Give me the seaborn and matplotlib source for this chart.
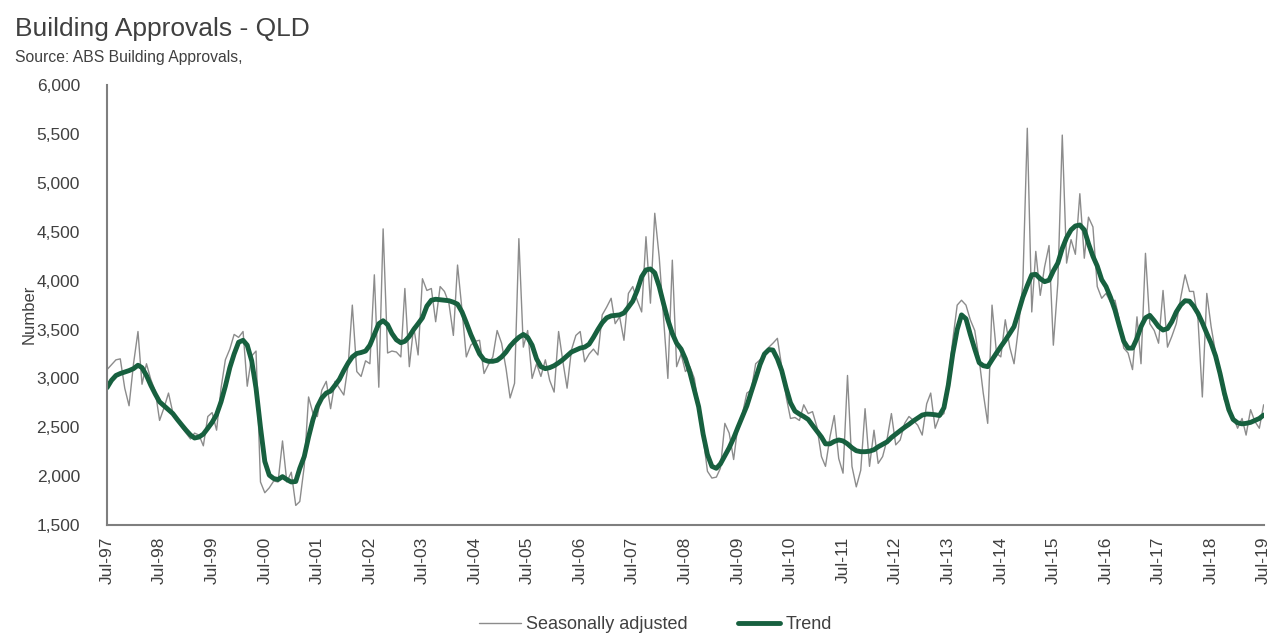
import pandas as pd
import seaborn as sns
import matplotlib.pyplot as plt
import matplotlib.dates as mdates
from matplotlib.ticker import FuncFormatter

# Monthly values, Jul-97 .. Jul-19
seasonally_adjusted = [
    3090, 3140, 3190, 3200, 2900, 2720, 3150, 3480, 2940, 3150, 2990, 2870,
    2570, 2700, 2850, 2650, 2580, 2500, 2440, 2380, 2440, 2420, 2310, 2610,
    2650, 2470, 2900, 3190, 3300, 3450, 3420, 3480, 2920, 3230, 3280, 1940,
    1830, 1880, 1950, 1940, 2360, 1940, 2040, 1700, 1740, 2100, 2810, 2640,
    2610, 2880, 2970, 2690, 2970, 2900, 2830, 3150, 3750, 3070, 3020, 3180,
    3150, 4060, 2910, 4530, 3260, 3280, 3270, 3220, 3920, 3120, 3530, 3240,
    4020, 3900, 3920, 3580, 3940, 3890, 3770, 3440, 4160, 3700, 3220, 3340,
    3380, 3390, 3050, 3140, 3220, 3490, 3360, 3100, 2800, 2950, 4430, 3320,
    3490, 3000, 3150, 3020, 3190, 2980, 2860, 3480, 3190, 2900, 3290, 3440,
    3480, 3170, 3250, 3300, 3240, 3650, 3730, 3820, 3560, 3630, 3390, 3870,
    3940, 3800, 3680, 4450, 3770, 4690, 4240, 3600, 3000, 4210, 3120, 3250,
    3070, 3120, 3000, 2700, 2400, 2050, 1980, 1990, 2080, 2540, 2440, 2170,
    2520, 2640, 2850, 2880, 3150, 3190, 3220, 3320, 3360, 3410, 3120, 2810,
    2590, 2600, 2570, 2730, 2640, 2660, 2500, 2200, 2100, 2400, 2620, 2180,
    2030, 3030, 2100, 1890, 2060, 2690, 2100, 2470, 2130, 2200, 2370, 2640,
    2320, 2370, 2540, 2610, 2570, 2520, 2420, 2740, 2850, 2490, 2610, 2640,
    2980, 3390, 3750, 3800, 3750, 3600, 3490, 3190, 2850, 2540, 3750, 3260,
    3220, 3600, 3320, 3150, 3520, 3970, 5560, 3680, 4300, 3850, 4140, 4360,
    3340, 3970, 5490, 4180, 4420, 4270, 4890, 4230, 4650, 4550, 3940, 3820,
    3870, 3780, 3800, 3600, 3310, 3260, 3090, 3630, 3150, 4280, 3560, 3490,
    3360, 3900, 3320, 3430, 3560, 3820, 4060, 3890, 3890, 3600, 2810, 3870,
    3530, 3260, 3020, 2780, 2700, 2610, 2490, 2590, 2420, 2680, 2560, 2490,
    2730,
]

trend = [
    2905, 2980, 3030, 3050, 3065, 3080, 3100, 3135, 3110, 3030, 2930, 2840,
    2760, 2720, 2680, 2640, 2580, 2525, 2470, 2420, 2390, 2400, 2430, 2490,
    2550, 2630, 2760, 2920, 3110, 3250, 3370, 3390, 3340, 3180, 2900, 2500,
    2150, 2010, 1975, 1965, 1995, 1965, 1940, 1945, 2080, 2200, 2400, 2580,
    2710, 2800, 2850, 2870, 2930, 2990, 3080, 3160, 3220, 3255, 3265, 3280,
    3340, 3450, 3560, 3590, 3550, 3460, 3395, 3365, 3380, 3430, 3500, 3560,
    3620, 3740, 3800, 3810, 3805, 3800, 3795, 3780, 3760, 3680, 3570, 3450,
    3350, 3250, 3190, 3175, 3175, 3185, 3220, 3270, 3330, 3380, 3420, 3450,
    3420, 3340, 3200, 3120, 3100, 3110, 3130, 3160, 3190, 3230, 3270, 3290,
    3310, 3320, 3350, 3420, 3500, 3570, 3620, 3640, 3645, 3650, 3670, 3730,
    3790, 3900, 4040, 4110, 4120, 4080, 3940, 3760, 3600, 3460, 3360, 3300,
    3200, 3060, 2880, 2710, 2430, 2220, 2100, 2080, 2125, 2210, 2290, 2390,
    2500, 2610, 2720, 2860, 3000, 3140, 3250, 3295, 3290, 3200, 3080, 2900,
    2750, 2665, 2635, 2610, 2580, 2520, 2460, 2400, 2330, 2330, 2355, 2370,
    2360, 2330, 2290, 2260, 2250, 2250, 2255, 2270, 2300, 2325, 2350, 2395,
    2430, 2465, 2500, 2530, 2565, 2595, 2625, 2635, 2633, 2628, 2620, 2700,
    2930, 3250, 3500, 3650, 3610, 3450, 3300, 3160, 3130, 3120, 3190, 3260,
    3325, 3390, 3460, 3530, 3680, 3830, 3950, 4060, 4065, 4020, 3990, 4005,
    4100, 4180, 4330, 4440, 4520, 4560, 4570, 4520, 4380, 4250, 4150, 4010,
    3940, 3830, 3700, 3540, 3380, 3310, 3310, 3410, 3530, 3620, 3645, 3590,
    3530, 3495, 3510, 3580, 3680, 3750, 3795, 3790, 3740, 3665, 3570, 3460,
    3360, 3230, 3050, 2850, 2680, 2580, 2545, 2535, 2540, 2550, 2570, 2590,
    2625,
]

dates = pd.date_range("1997-07-01", periods=len(trend), freq="MS")
df = pd.DataFrame({"date": dates, "sa": seasonally_adjusted, "trend": trend})

sns.set_style("white")
plt.rcParams["font.family"] = ["Liberation Sans", "DejaVu Sans"]

text_col = "#404040"
axis_col = "#7f7f7f"

fig = plt.figure(figsize=(12.88, 6.41), dpi=100)
ax = fig.add_axes([0.0831, 0.181, 0.898, 0.686])

sns.lineplot(data=df, x="date", y="sa", color="#8c8c8c", linewidth=1.0,
             label="Seasonally adjusted", ax=ax)
sns.lineplot(data=df, x="date", y="trend", color="#17603f", linewidth=3.5,
             label="Trend", ax=ax)

ax.set_xlim(dates[0], dates[-1])
ax.set_ylim(1500, 6000)
ax.set_yticks(range(1500, 6001, 500))
ax.yaxis.set_major_formatter(FuncFormatter(lambda v, p: f"{int(v):,}"))

ax.xaxis.set_major_locator(mdates.MonthLocator(bymonth=7))
ax.xaxis.set_major_formatter(mdates.DateFormatter("%b-%y"))
plt.setp(ax.get_xticklabels(), rotation=90)

for s in ["top", "right"]:
    ax.spines[s].set_visible(False)
for s in ["left", "bottom"]:
    ax.spines[s].set_color(axis_col)
    ax.spines[s].set_linewidth(1.5)
ax.tick_params(axis="both", direction="out", length=5, width=1.2, color="#404040",
               labelsize=12.5, labelcolor=text_col)
ax.tick_params(axis="y", pad=14.5)

ax.set_xlabel("")
ax.set_ylabel("Number", fontsize=12, color=text_col)
ax.yaxis.set_label_coords(-0.061, 0.48)

ax.get_legend().remove()
handles, labels = ax.get_legend_handles_labels()
fig.legend(handles, labels, loc="center", bbox_to_anchor=(0.509, 0.025), ncol=2,
           frameon=False, fontsize=13, handlelength=2.3, handletextpad=0.3,
           columnspacing=2.8, labelcolor=text_col)

fig.text(0.012, 0.955, "Building Approvals - QLD", fontsize=19, color=text_col,
         va="center", ha="left")
fig.text(0.012, 0.91, "Source: ABS Building Approvals,", fontsize=11.3, color=text_col,
         va="center", ha="left")

fig.savefig("out.png", dpi=100, facecolor="white")
